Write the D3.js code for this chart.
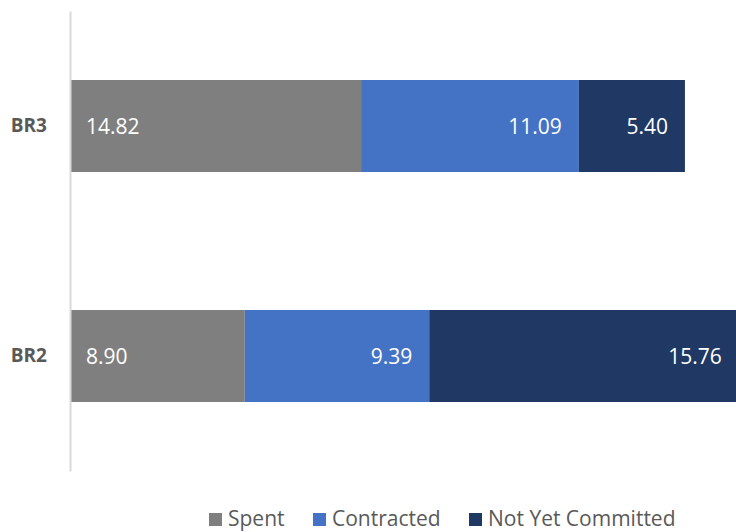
<!DOCTYPE html>
<html><head><meta charset="utf-8">
<script src="https://cdn.jsdelivr.net/npm/d3@7"></script>
<style>html,body{margin:0;padding:0;background:#fff;overflow:hidden}</style>
</head><body>
<svg id="c" width="736" height="532"></svg>
<script>
const categories = ["BR3", "BR2"];
const seriesNames = ["Spent", "Contracted", "Not Yet Committed"];
const spent = [14.82, 8.90];
const contracted = [11.09, 9.39];
const notYetCommitted = [5.40, 15.76];
const colors = ["#7F7F7F", "#4472C4", "#203864"];

const rows = categories.map((c, i) => ({cat: c, "Spent": spent[i], "Contracted": contracted[i], "Not Yet Committed": notYetCommitted[i]}));
const stack = d3.stack().keys(seriesNames)(rows);

const svg = d3.select("#c");
const x = d3.scaleLinear().domain([0, 35]).range([70, 70 + 35 * 19.64]);
const y = d3.scaleBand().domain(categories).range([11, 471]).paddingInner(0.6).paddingOuter(0.3);
const font = "'Open Sans', sans-serif";

const g = svg.append("g");
stack.forEach((s, si) => {
  const layer = g.append("g").attr("fill", colors[si]);
  layer.selectAll("rect").data(s).join("rect")
    .attr("x", d => x(d[0]))
    .attr("y", d => y(d.data.cat))
    .attr("width", d => x(d[1]) - x(d[0]))
    .attr("height", y.bandwidth());
  layer.selectAll("text").data(s).join("text")
    .attr("x", d => si === 0 ? x(d[0]) + 16 : x(d[1]) - 17)
    .attr("y", d => y(d.data.cat) + y.bandwidth() / 2)
    .attr("dy", "0.36em")
    .attr("text-anchor", si === 0 ? "start" : "end")
    .attr("fill", "#fff")
    .style("font-family", font).style("font-size", "21px")
    .text(d => (d[1] - d[0]).toFixed(2));
});

// category axis
const axis = svg.append("g").attr("transform", `translate(${x(0)},0)`)
  .call(d3.axisLeft(y).tickSize(0).tickPadding(23));
axis.select(".domain").attr("stroke", "#D9D9D9").attr("stroke-width", 2);
axis.selectAll("text").attr("fill", "#595959")
  .style("font-family", font).style("font-size", "19px").style("font-weight", "bold");

// legend
const legendX = [209, 313, 469];
const lg = svg.append("g");
seriesNames.forEach((n, i) => {
  lg.append("rect").attr("x", legendX[i]).attr("y", 513).attr("width", 13).attr("height", 13).attr("fill", colors[i]);
  lg.append("text").attr("x", legendX[i] + 19).attr("y", 526)
    .attr("fill", "#595959").style("font-family", font).style("font-size", "21px").text(n);
});
</script>
</body></html>
